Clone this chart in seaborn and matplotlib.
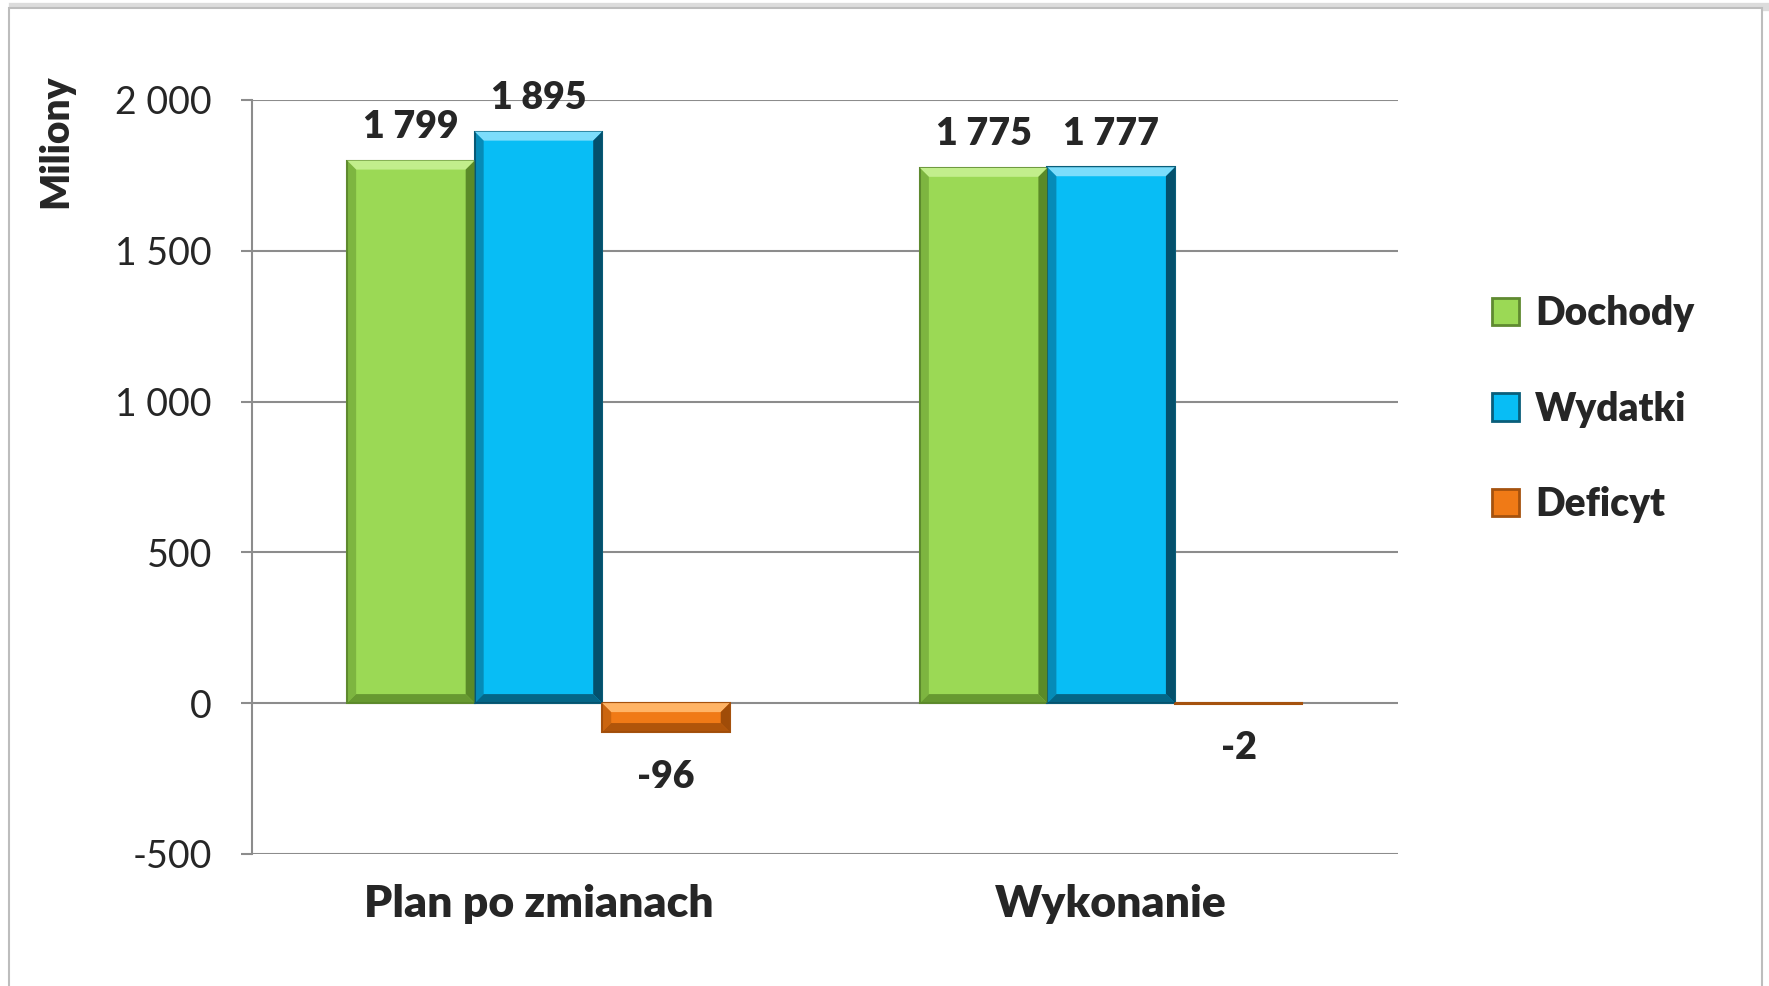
import numpy as np
import pandas as pd
import seaborn as sns
import matplotlib.pyplot as plt
from matplotlib.patches import Rectangle, Polygon

# dane z wykresu
kategorie = ['Plan po zmianach', 'Wykonanie']
dochody = [1799, 1775]
wydatki = [1895, 1777]
deficyt = [-96, -2]
serie = ['Dochody', 'Wydatki', 'Deficyt']
kolory = ['#9BD955', '#08BDF5', '#F07A16']
krawedzie = ['#5F8A30', '#0A5E7A', '#A5520E']
jasne = ['#C2EE8C', '#7CDDFB', '#FFB466']   # gorna krawedz fazy
ciemne = ['#5A8A28', '#04506C', '#A04C08']  # prawa/dolna krawedz fazy

df = pd.DataFrame({
    'kategoria': kategorie * 3,
    'seria': [s for s in serie for _ in kategorie],
    'wartosc': dochody + wydatki + deficyt,
})

sns.set_style('white')
plt.rcParams['font.family'] = ['Lato', 'DejaVu Sans']

fig = plt.figure(figsize=(17.69, 9.86), dpi=100)
ax = fig.add_axes([0.1425, 0.134, 0.6475, 0.7646])
ax.set_zorder(5)
ax.patch.set_alpha(0)

# ramka wokol wykresu (z cieniem z prawej)
fig.patches.append(Rectangle((0.0075, -0.02), 0.9935, 1.013, transform=fig.transFigure,
                             facecolor='none', edgecolor='#BBBBBB', linewidth=6, alpha=0.5, zorder=-10))
fig.patches.append(Rectangle((0.005, -0.02), 0.991, 1.012, transform=fig.transFigure,
                             facecolor='white', edgecolor='#BDBDBD', linewidth=1.5, zorder=-9))

sns.barplot(data=df, x='kategoria', y='wartosc', hue='seria', palette=kolory,
            width=0.668, gap=0, ax=ax, saturation=1, legend=True)

ax.set_ylim(-500, 2000)
ax.set_xlim(-0.5, 1.5)

# faza (efekt 3D) na slupkach, szerokosc w pikselach
bx = 9 * 1.0 / (ax.get_window_extent().width / 2.0)
by = 9 * 2500.0 / ax.get_window_extent().height

for i, cont in enumerate(ax.containers):
    for p in cont:
        p.set_edgecolor(krawedzie[i])
        p.set_linewidth(1.5)
        p.set_zorder(3)
        x0, w = p.get_x(), p.get_width()
        y0 = min(p.get_y(), p.get_y() + p.get_height())
        y1 = max(p.get_y(), p.get_y() + p.get_height())
        x1 = x0 + w
        if y1 - y0 < 2 * by:
            continue
        ax.add_patch(Polygon([(x0, y1), (x1, y1), (x1 - bx, y1 - by), (x0 + bx, y1 - by)],
                             closed=True, facecolor=jasne[i], edgecolor='none', zorder=4))
        ax.add_patch(Polygon([(x1, y1), (x1, y0), (x1 - bx, y0 + by), (x1 - bx, y1 - by)],
                             closed=True, facecolor=ciemne[i], edgecolor='none', zorder=4))
        ax.add_patch(Polygon([(x0, y0), (x1, y0), (x1 - bx, y0 + by), (x0 + bx, y0 + by)],
                             closed=True, facecolor=ciemne[i], edgecolor='none', alpha=0.8, zorder=4))
        ax.add_patch(Polygon([(x0, y1), (x0, y0), (x0 + bx, y0 + by), (x0 + bx, y1 - by)],
                             closed=True, facecolor=ciemne[i], edgecolor='none', alpha=0.45, zorder=4))
    pad = 12 if cont.datavalues[0] > 0 else 20
    ax.bar_label(cont, labels=[f'{v:,.0f}'.replace(',', ' ') for v in cont.datavalues],
                 padding=pad, fontsize=27, fontweight='heavy')

ax.set_yticks([-500, 0, 500, 1000, 1500, 2000])
ax.set_yticklabels([f'{v:,}'.replace(',', ' ') for v in [-500, 0, 500, 1000, 1500, 2000]], fontsize=27)
ax.grid(axis='y', color='#8C8C8C', linewidth=1.5, zorder=0)
ax.set_axisbelow(True)
for s in ['top', 'right', 'bottom']:
    ax.spines[s].set_visible(False)
ax.spines['left'].set_color('#8C8C8C')
ax.spines['left'].set_linewidth(1.5)
ax.tick_params(axis='y', which='major', left=True, length=8, width=1.5, color='#8C8C8C', pad=21)
ax.tick_params(axis='x', length=0, pad=22)
for t in ax.get_xticklabels():
    t.set_fontsize(32)
    t.set_fontweight('heavy')
ax.set_xlabel('')
ax.set_ylabel('Miliony', fontsize=28, fontweight='heavy', labelpad=12)
ax.yaxis.set_label_coords(-0.155, 0.945)

leg = ax.legend(loc='center left', bbox_to_anchor=(1.052, 0.59), frameon=False,
                fontsize=28, handlelength=0.7, handleheight=0.7, labelspacing=1.5,
                handletextpad=0.4)
for t in leg.get_texts():
    t.set_fontweight('heavy')
for h, ec in zip(leg.legend_handles, krawedzie):
    h.set_edgecolor(ec)
    h.set_linewidth(2)

fig.savefig('out.png', dpi=100)
